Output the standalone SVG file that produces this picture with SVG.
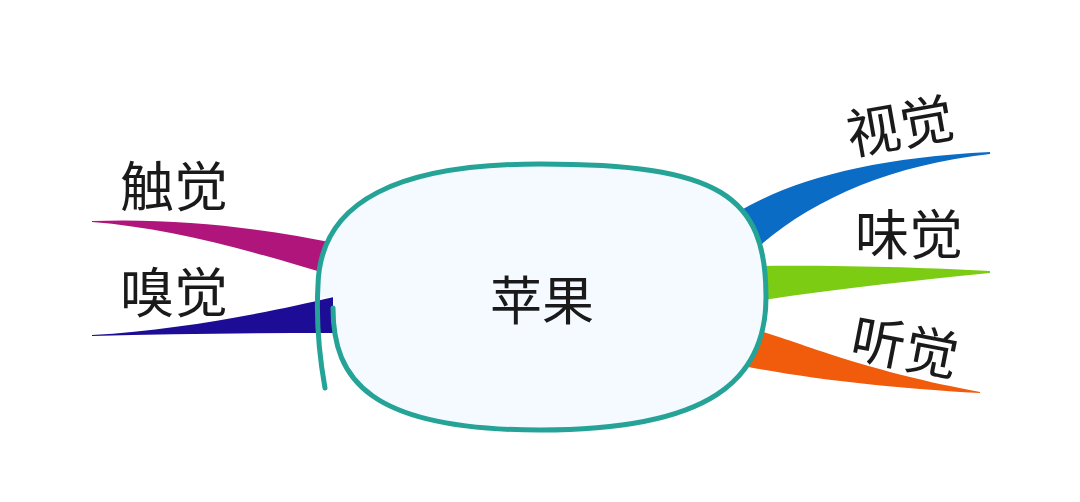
<svg xmlns="http://www.w3.org/2000/svg" width="1080" height="502" viewBox="0 0 1080 502">
<style>
.lbl{font-family:"Noto Sans CJK SC","Noto Sans",sans-serif;font-size:54px;fill:#1a1a1a}
.center{font-size:52px}
.blob-fill{fill:#f4faff;stroke:none}
.blob-line{fill:none;stroke:#25a396;stroke-width:5;stroke-linecap:round;stroke-linejoin:round}
</style>
<rect width="1080" height="502" fill="#ffffff"/>
<g id="connectors">
<path id="c-touch" d="M 92 221 C 180 218, 260 228, 340 244 L 340 278 C 250 250, 170 228, 92 222 Z" fill="#b0157c"/>
<path id="c-smell" d="M 92 335 C 180 330, 270 312, 334 297 L 334 333 C 250 333, 170 334, 92 336 Z" fill="#1c0c96"/>
<path id="c-sight" d="M 735 214 C 790 180, 870 158, 990 152 L 990 154 C 890 165, 810 200, 755 250 Z" fill="#0b6cc5"/>
<path id="c-taste" d="M 750 266 C 850 265, 930 268, 990 271 L 990 273 C 920 280, 840 288, 750 302 Z" fill="#7dcc14"/>
<path id="c-hear" d="M 750 328 C 800 342, 860 370, 980 392 L 980 393 C 890 388, 820 380, 748 367 Z" fill="#f05b0c"/>
</g>
<g id="node-apple">
<path class="blob-fill" d="M 333 297 L 333 308 C 333 380, 370 430, 540 430 C 710 430, 766 380, 766 297 C 766 195, 720 164, 540 164 C 400 164, 320 200, 318 285 L 318 297 Z"/>
<path class="blob-line" d="M 333 308 C 333 380, 370 430, 540 430 C 710 430, 766 380, 766 297 C 766 195, 720 164, 540 164 C 400 164, 320 200, 318 285 C 316 320, 320 360, 325 388"/>
<text class="lbl center" x="542" y="320" text-anchor="middle">苹果</text>
</g>
<g id="node-touch"><text class="lbl" x="120" y="207">触觉</text></g>
<g id="node-smell"><text class="lbl" x="120" y="313">嗅觉</text></g>
<g id="node-sight"><text class="lbl" x="900" y="146" text-anchor="middle" transform="rotate(-10 900 126)">视觉</text></g>
<g id="node-taste"><text class="lbl" x="855" y="255">味觉</text></g>
<g id="node-hear"><text class="lbl" x="905" y="367" text-anchor="middle" transform="rotate(11 905 347)">听觉</text></g>
</svg>
